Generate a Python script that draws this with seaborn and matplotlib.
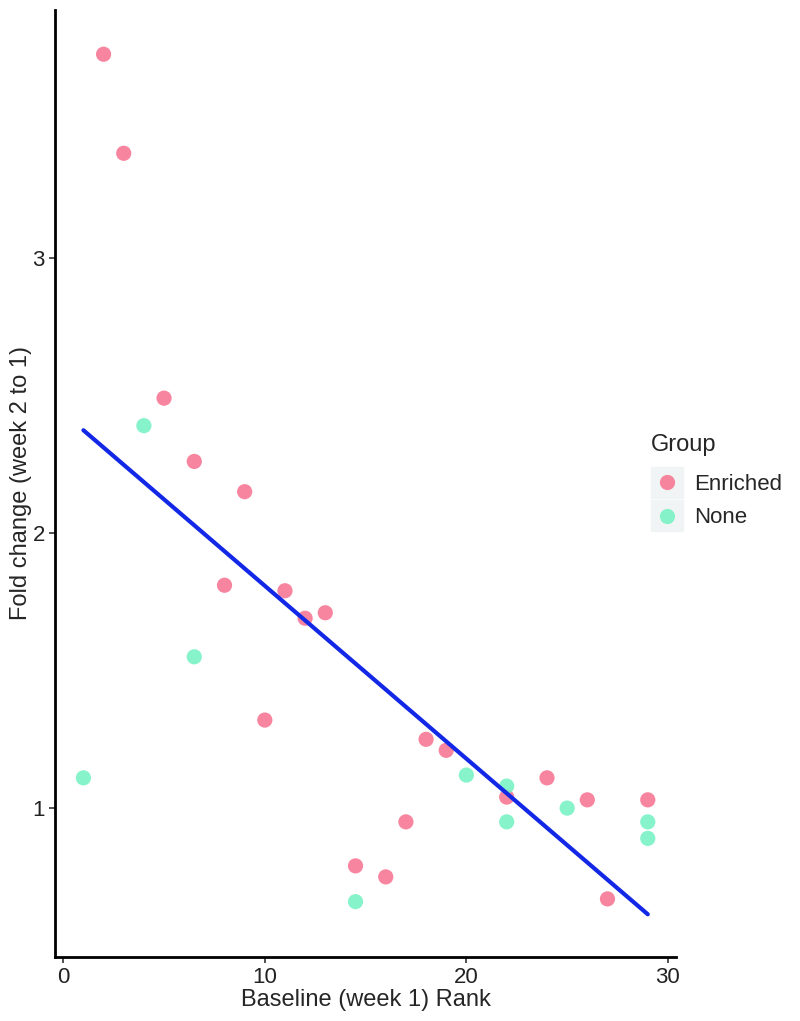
import pandas as pd
import matplotlib.pyplot as plt
import seaborn as sns
from matplotlib.patches import Rectangle

enriched_rank = [2, 3, 5, 6.5, 9, 8, 11, 12, 13, 10, 18, 19, 22, 24, 26, 29, 17, 14.5, 16, 27]
enriched_fold = [3.74, 3.38, 2.49, 2.26, 2.15, 1.81, 1.79, 1.69, 1.71, 1.32, 1.25, 1.21, 1.04, 1.11, 1.03, 1.03, 0.95, 0.79, 0.75, 0.67]
none_rank = [1, 4, 6.5, 20, 22, 22, 25, 29, 29, 14.5]
none_fold = [1.11, 2.39, 1.55, 1.12, 1.08, 0.95, 1.00, 0.95, 0.89, 0.66]

df = pd.DataFrame({
    'Rank': enriched_rank + none_rank,
    'Fold': enriched_fold + none_fold,
    'Group': ['Enriched'] * len(enriched_rank) + ['None'] * len(none_rank),
})

sns.set_style('white')
plt.rcParams['font.family'] = ['Liberation Sans', 'DejaVu Sans']

fig = plt.figure(figsize=(8, 10.21), dpi=100)
ax = fig.add_axes([0.069, 0.063, 0.776, 0.927])
ax.patch.set_visible(False)

palette = {'Enriched': '#F7708E', 'None': '#72F2C2'}
sns.scatterplot(data=df, x='Rank', y='Fold', hue='Group', palette=palette,
                s=120, alpha=0.85, edgecolor=None, linewidth=0, ax=ax, zorder=2)
sns.regplot(data=df, x='Rank', y='Fold', scatter=False, ci=None,
            line_kws={'color': '#1228E6', 'lw': 3, 'zorder': 3}, ax=ax, truncate=True)

ax.set_xlim(-0.4, 30.4)
ax.set_ylim(0.46, 3.9)
ax.set_xticks([0, 10, 20, 30])
ax.set_yticks([1, 2, 3])
ax.set_xlabel('Baseline (week 1) Rank', fontsize=17, labelpad=1)
ax.set_ylabel('Fold change (week 2 to 1)', fontsize=17, labelpad=0)
ax.tick_params(labelsize=16, length=4, width=1.2, colors='#333333', left=True, bottom=True)
ax.tick_params(axis='both', labelcolor='#222222')
for side in ['top', 'right']:
    ax.spines[side].set_visible(False)
for side in ['left', 'bottom']:
    ax.spines[side].set_color('black')
    ax.spines[side].set_linewidth(2)

leg = ax.legend(title='Group', loc='upper left',
                bbox_to_anchor=(651 / 800, 1 - 440 / 1021), bbox_transform=fig.transFigure,
                frameon=False, fontsize=16, title_fontsize=17, markerscale=1.0,
                borderpad=0, borderaxespad=0, handlelength=1.4, handletextpad=0.56,
                labelspacing=0.55)
leg._legend_box.align = 'left'
leg.get_title().set_position((0, 6))

# grey key backgrounds behind legend markers
for yk in [467, 500]:
    fig.patches.append(Rectangle((651 / 800, 1 - (yk + 31) / 1021), 32 / 800, 31 / 1021,
                                 transform=fig.transFigure, color='#F1F4F4', zorder=-1))

fig.savefig('out.png', dpi=100, facecolor='white')
